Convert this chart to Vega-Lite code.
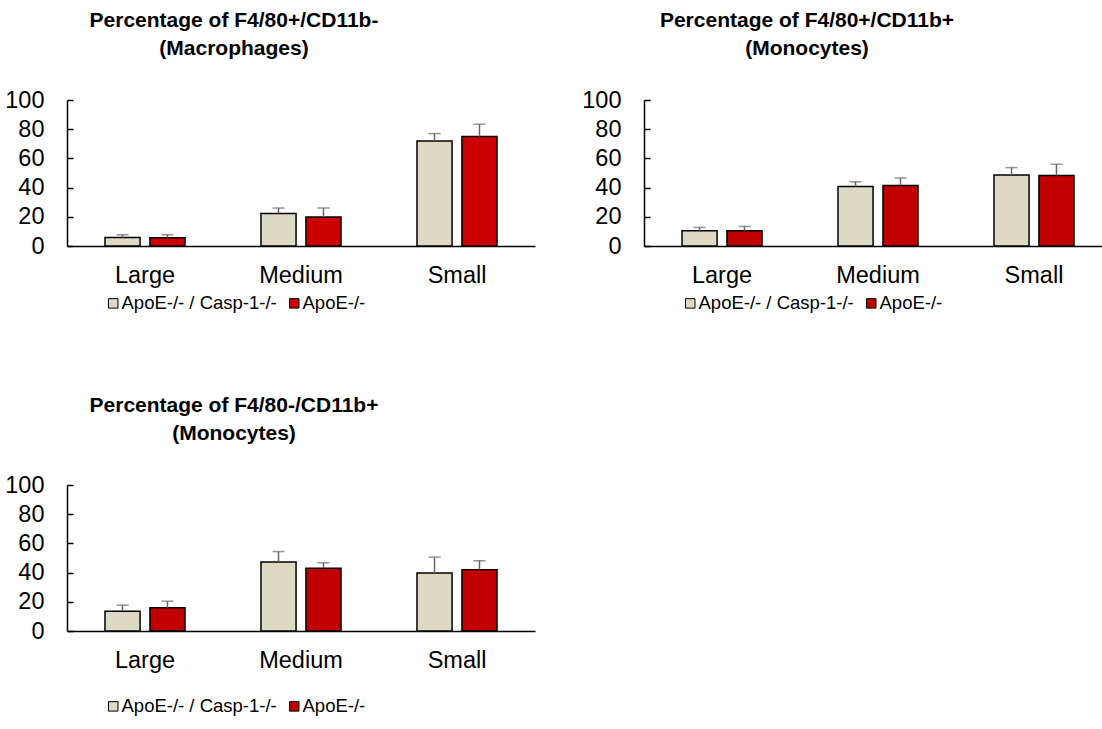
{
  "$schema": "https://vega.github.io/schema/vega-lite/v6.json",
  "padding": {"left": 4, "top": 10, "right": 0, "bottom": 0},
  "background": "white",
  "datasets": {
    "p1": [
      {"size": "Large", "group": "ApoE-/- / Casp-1-/-", "value": 5.8, "upper": 7.7},
      {"size": "Large", "group": "ApoE-/-", "value": 5.6, "upper": 7.7},
      {"size": "Medium", "group": "ApoE-/- / Casp-1-/-", "value": 22.3, "upper": 26},
      {"size": "Medium", "group": "ApoE-/-", "value": 19.8, "upper": 26},
      {"size": "Small", "group": "ApoE-/- / Casp-1-/-", "value": 72, "upper": 77},
      {"size": "Small", "group": "ApoE-/-", "value": 75, "upper": 83.4}
    ],
    "p2": [
      {"size": "Large", "group": "ApoE-/- / Casp-1-/-", "value": 10.5, "upper": 12.7},
      {"size": "Large", "group": "ApoE-/-", "value": 10.5, "upper": 13.4},
      {"size": "Medium", "group": "ApoE-/- / Casp-1-/-", "value": 40.7, "upper": 44},
      {"size": "Medium", "group": "ApoE-/-", "value": 41.4, "upper": 46.5},
      {"size": "Small", "group": "ApoE-/- / Casp-1-/-", "value": 48.7, "upper": 53.7},
      {"size": "Small", "group": "ApoE-/-", "value": 48.3, "upper": 56}
    ],
    "p3": [
      {"size": "Large", "group": "ApoE-/- / Casp-1-/-", "value": 13.6, "upper": 17.7},
      {"size": "Large", "group": "ApoE-/-", "value": 15.9, "upper": 20.4},
      {"size": "Medium", "group": "ApoE-/- / Casp-1-/-", "value": 47.2, "upper": 54.4},
      {"size": "Medium", "group": "ApoE-/-", "value": 42.9, "upper": 46.7},
      {"size": "Small", "group": "ApoE-/- / Casp-1-/-", "value": 39.7, "upper": 50.6},
      {"size": "Small", "group": "ApoE-/-", "value": 42, "upper": 48.1}
    ]
  },
  "columns": 2,
  "spacing": {"column": 46, "row": 82},
  "concat": [
    {
      "data": {"name": "p1"},
      "width": 468,
      "height": 146,
      "title": {"text": ["Percentage of F4/80+/CD11b-", "(Macrophages)"], "dx": -67},
      "encoding": {
        "x": {"field": "size", "type": "nominal", "sort": ["Large", "Medium", "Small"], "title": null,
              "scale": {"paddingInner": 0.487, "paddingOuter": 0.2435},
              "axis": {"labelAngle": 0, "ticks": false, "labelPadding": 17}},
        "xOffset": {"field": "group", "type": "nominal", "sort": ["ApoE-/- / Casp-1-/-", "ApoE-/-"],
                    "scale": {"paddingInner": 0.22, "paddingOuter": 0}}
      },
      "layer": [
        {
          "mark": {"type": "bar", "stroke": "black", "strokeWidth": 1.5},
          "encoding": {
            "y": {"field": "value", "type": "quantitative", "title": null, "scale": {"domain": [0, 100]},
                  "axis": {"values": [0, 20, 40, 60, 80, 100], "tickSize": -6, "labelPadding": 29, "labelOverlap": false}},
            "fill": {"field": "group", "type": "nominal", "sort": ["ApoE-/- / Casp-1-/-", "ApoE-/-"],
                     "scale": {"domain": ["ApoE-/- / Casp-1-/-", "ApoE-/-"], "range": ["#DDD9C3", "#CC0000"]},
                     "legend": {"title": null, "orient": "none", "direction": "horizontal", "legendX": 37, "legendY": 194}}
          }
        },
        {
          "mark": {"type": "rule", "color": "#666666", "strokeWidth": 1.5},
          "encoding": {
            "y": {"field": "value", "type": "quantitative", "title": null, "scale": {"domain": [0, 100]},
                  "axis": {"values": [0, 20, 40, 60, 80, 100], "tickSize": -6, "labelPadding": 29, "labelOverlap": false}},
            "y2": {"field": "upper"}}
        },
        {
          "mark": {"type": "tick", "color": "#666666", "thickness": 1.5, "size": 12},
          "encoding": {
            "y": {"field": "upper", "type": "quantitative", "title": null, "scale": {"domain": [0, 100]},
                  "axis": {"values": [0, 20, 40, 60, 80, 100], "tickSize": -6, "labelPadding": 29, "labelOverlap": false}}}
        }
      ]
    },
    {
      "data": {"name": "p2"},
      "width": 460,
      "height": 146,
      "title": {"text": ["Percentage of F4/80+/CD11b+", "(Monocytes)"], "dx": -67},
      "encoding": {
        "x": {"field": "size", "type": "nominal", "sort": ["Large", "Medium", "Small"], "title": null,
              "scale": {"paddingInner": 0.487, "paddingOuter": 0.218, "align": 0.559},
              "axis": {"labelAngle": 0, "ticks": false, "labelPadding": 17}},
        "xOffset": {"field": "group", "type": "nominal", "sort": ["ApoE-/- / Casp-1-/-", "ApoE-/-"],
                    "scale": {"paddingInner": 0.22, "paddingOuter": 0}}
      },
      "layer": [
        {
          "mark": {"type": "bar", "stroke": "black", "strokeWidth": 1.5},
          "encoding": {
            "y": {"field": "value", "type": "quantitative", "title": null, "scale": {"domain": [0, 100]},
                  "axis": {"values": [0, 20, 40, 60, 80, 100], "tickSize": -6, "labelPadding": 29, "labelOverlap": false}},
            "fill": {"field": "group", "type": "nominal", "sort": ["ApoE-/- / Casp-1-/-", "ApoE-/-"],
                     "scale": {"domain": ["ApoE-/- / Casp-1-/-", "ApoE-/-"], "range": ["#DDD9C3", "#C00000"]},
                     "legend": {"title": null, "orient": "none", "direction": "horizontal", "legendX": 37, "legendY": 194}}
          }
        },
        {
          "mark": {"type": "rule", "color": "#666666", "strokeWidth": 1.5},
          "encoding": {
            "y": {"field": "value", "type": "quantitative", "title": null, "scale": {"domain": [0, 100]},
                  "axis": {"values": [0, 20, 40, 60, 80, 100], "tickSize": -6, "labelPadding": 29, "labelOverlap": false}},
            "y2": {"field": "upper"}}
        },
        {
          "mark": {"type": "tick", "color": "#666666", "thickness": 1.5, "size": 12},
          "encoding": {
            "y": {"field": "upper", "type": "quantitative", "title": null, "scale": {"domain": [0, 100]},
                  "axis": {"values": [0, 20, 40, 60, 80, 100], "tickSize": -6, "labelPadding": 29, "labelOverlap": false}}}
        }
      ]
    },
    {
      "data": {"name": "p3"},
      "width": 468,
      "height": 146,
      "title": {"text": ["Percentage of F4/80-/CD11b+", "(Monocytes)"], "dx": -67},
      "encoding": {
        "x": {"field": "size", "type": "nominal", "sort": ["Large", "Medium", "Small"], "title": null,
              "scale": {"paddingInner": 0.487, "paddingOuter": 0.2435},
              "axis": {"labelAngle": 0, "ticks": false, "labelPadding": 17}},
        "xOffset": {"field": "group", "type": "nominal", "sort": ["ApoE-/- / Casp-1-/-", "ApoE-/-"],
                    "scale": {"paddingInner": 0.22, "paddingOuter": 0}}
      },
      "layer": [
        {
          "mark": {"type": "bar", "stroke": "black", "strokeWidth": 1.5},
          "encoding": {
            "y": {"field": "value", "type": "quantitative", "title": null, "scale": {"domain": [0, 100]},
                  "axis": {"values": [0, 20, 40, 60, 80, 100], "tickSize": -6, "labelPadding": 29, "labelOverlap": false}},
            "fill": {"field": "group", "type": "nominal", "sort": ["ApoE-/- / Casp-1-/-", "ApoE-/-"],
                     "scale": {"domain": ["ApoE-/- / Casp-1-/-", "ApoE-/-"], "range": ["#DDD9C3", "#C00000"]},
                     "legend": {"title": null, "orient": "none", "direction": "horizontal", "legendX": 37, "legendY": 212}}
          }
        },
        {
          "mark": {"type": "rule", "color": "#666666", "strokeWidth": 1.5},
          "encoding": {
            "y": {"field": "value", "type": "quantitative", "title": null, "scale": {"domain": [0, 100]},
                  "axis": {"values": [0, 20, 40, 60, 80, 100], "tickSize": -6, "labelPadding": 29, "labelOverlap": false}},
            "y2": {"field": "upper"}}
        },
        {
          "mark": {"type": "tick", "color": "#666666", "thickness": 1.5, "size": 12},
          "encoding": {
            "y": {"field": "upper", "type": "quantitative", "title": null, "scale": {"domain": [0, 100]},
                  "axis": {"values": [0, 20, 40, 60, 80, 100], "tickSize": -6, "labelPadding": 29, "labelOverlap": false}}}
        }
      ]
    }
  ],
  "resolve": {"scale": {"fill": "independent", "y": "independent", "x": "independent"}, "legend": {"fill": "independent"}},
  "config": {
    "font": "Liberation Sans",
    "view": {"stroke": null},
    "title": {"fontSize": 21, "fontWeight": "bold", "color": "black", "lineHeight": 28, "anchor": "middle", "offset": 29, "font": "Liberation Sans"},
    "axis": {"grid": false, "domainColor": "black", "domainWidth": 1.5, "tickColor": "black", "tickWidth": 1.5,
             "labelFontSize": 23.5, "labelColor": "black", "labelFont": "Liberation Sans"},
    "axisY": {"labelOverlap": false, "tickSize": -6, "labelPadding": 29, "labelFlush": false},
    "legend": {"symbolType": "square", "symbolSize": 90, "symbolStrokeColor": "black", "symbolStrokeWidth": 1,
               "labelFontSize": 18.5, "labelColor": "black", "labelFont": "Liberation Sans", "labelOffset": -1, "columnPadding": 8, "symbolOpacity": 1}
  }
}
